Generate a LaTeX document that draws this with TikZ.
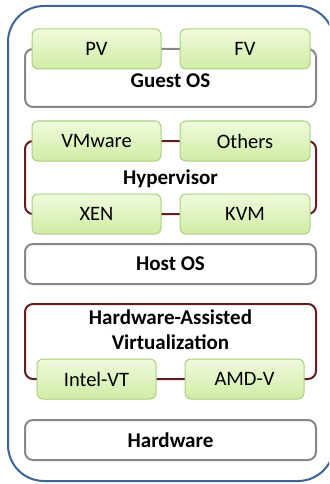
\documentclass[tikz,border=0pt]{standalone}
\usepackage{fontspec}
\setmainfont{Carlito}
\begin{document}
\begin{tikzpicture}[x=1pt,y=-1pt,
  greenbox/.style={draw={rgb,255:red,168;green,208;blue,128}, line width=1pt, rounded corners=6pt,
    top color={rgb,255:red,240;green,250;blue,220}, bottom color={rgb,255:red,208;green,236;blue,164},
    minimum height=40pt, inner sep=0pt, font=\fontsize{20.5}{22}\selectfont},
  graygroup/.style={draw={rgb,255:red,135;green,135;blue,135}, line width=2pt, rounded corners=8pt, fill=white},
  redgroup/.style={draw={rgb,255:red,100;green,30;blue,30}, line width=2pt, rounded corners=8pt, fill=white},
  grouplabel/.style={font=\bfseries\fontsize{21}{25}\selectfont, align=center, inner sep=0pt}
]
\useasboundingbox (0,0) rectangle (329,484);
\begin{scope}
\clip (0,0) rectangle (329,484);
\draw[draw={rgb,255:red,60;green,100;blue,150}, line width=2pt, rounded corners=36pt] (8,6) rectangle (334,481);
\end{scope}
% Guest OS
\draw[graygroup] (25,49) rectangle (316,107);
\node[grouplabel] (guest) at (170.5,81) {Guest OS};
\node[greenbox, minimum width=129pt] (pv) at (96.5,49) {PV};
\node[greenbox, minimum width=130pt] (fv) at (245,49) {FV};
% Hypervisor
\draw[redgroup] (25,141) rectangle (316,214);
\node[grouplabel] (hyp) at (170.5,179) {Hypervisor};
\node[greenbox, minimum width=129pt] (vmw) at (96.5,141) {VMware};
\node[greenbox, minimum width=130pt] (oth) at (245,141) {Others};
\node[greenbox, minimum width=129pt] (xen) at (96.5,214) {XEN};
\node[greenbox, minimum width=130pt] (kvm) at (245,214) {KVM};
% Host OS
\draw[graygroup] (25,244) rectangle (316,284);
\node[grouplabel] (host) at (170.5,264) {Host OS};
% HW assisted
\draw[redgroup] (25,304) rectangle (316,379);
\node[grouplabel] (hwa) at (170.5,330) {Hardware-Assisted\\Virtualization};
\node[greenbox, minimum width=119pt] (intel) at (96.5,379) {Intel-VT};
\node[greenbox, minimum width=119pt] (amd) at (244.5,379) {AMD-V};
% Hardware
\draw[graygroup] (25,420) rectangle (316,460);
\node[grouplabel] (hw) at (170.5,440) {Hardware};
\end{tikzpicture}
\end{document}
